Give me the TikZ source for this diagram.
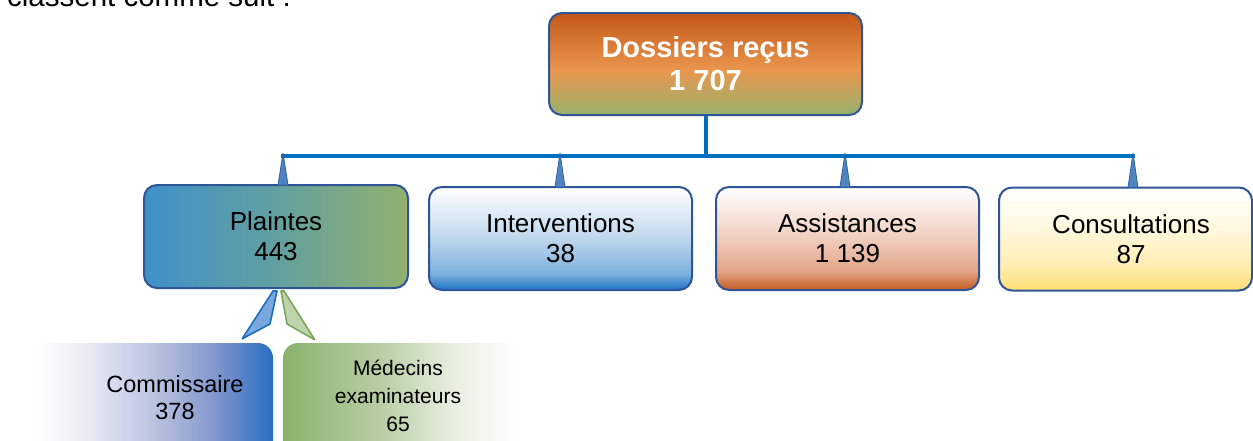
\documentclass[tikz,border=0pt]{standalone}
\usepackage{fontspec}
\setmainfont{Liberation Sans}
\usetikzlibrary{calc}

% palette
\definecolor{frameblue}{RGB}{47,85,151}
\definecolor{busblue}{RGB}{0,112,192}
\definecolor{pinfill}{RGB}{80,132,192}
\definecolor{pinedge}{RGB}{45,95,165}
\definecolor{orDark}{RGB}{196,88,24}
\definecolor{orMid}{RGB}{234,150,78}
\definecolor{olive}{RGB}{150,178,110}
\definecolor{plBlue}{RGB}{62,144,202}
\definecolor{plMid}{RGB}{98,160,160}
\definecolor{plGreen}{RGB}{146,176,110}
\definecolor{ivBlue}{RGB}{28,114,196}
\definecolor{ivMid}{RGB}{125,176,222}
\definecolor{ivLight}{RGB}{196,219,238}
\definecolor{asBrown}{RGB}{196,90,30}
\definecolor{asMid}{RGB}{226,164,134}
\definecolor{asLight}{RGB}{242,210,196}
\definecolor{coYellow}{RGB}{255,222,115}
\definecolor{coMid}{RGB}{255,238,180}
\definecolor{coLight}{RGB}{255,248,222}
\definecolor{cmBlue}{RGB}{40,110,195}
\definecolor{cmMid}{RGB}{130,150,205}
\definecolor{cmLav}{RGB}{188,196,225}
\definecolor{cmPale}{RGB}{238,240,247}
\definecolor{mdGreen}{RGB}{138,178,108}
\definecolor{mdMid}{RGB}{185,206,165}
\definecolor{mdPale}{RGB}{232,239,226}
\definecolor{wedgeBlueEdge}{RGB}{30,110,190}
\definecolor{wedgeBlueFill}{RGB}{120,168,222}
\definecolor{wedgeGreenEdge}{RGB}{122,165,96}
\definecolor{wedgeGreenFill}{RGB}{190,212,172}

% box fills (the path spans 25bp..75bp of each shading)
\pgfdeclareverticalshading{shTop}{100bp}{color(0bp)=(olive); color(25bp)=(olive); color(47bp)=(orMid); color(75bp)=(orDark); color(100bp)=(orDark)}
\pgfdeclarehorizontalshading{shPlaintes}{100bp}{color(0bp)=(plBlue); color(25bp)=(plBlue); color(50bp)=(plMid); color(75bp)=(plGreen); color(100bp)=(plGreen)}
\pgfdeclareverticalshading{shInterv}{100bp}{color(0bp)=(ivBlue); color(25bp)=(ivBlue); color(33bp)=(ivMid); color(52bp)=(ivLight); color(75bp)=(white); color(100bp)=(white)}
\pgfdeclareverticalshading{shAssist}{100bp}{color(0bp)=(asBrown); color(25bp)=(asBrown); color(34bp)=(asMid); color(52bp)=(asLight); color(75bp)=(white); color(100bp)=(white)}
\pgfdeclareverticalshading{shConsult}{100bp}{color(0bp)=(coYellow); color(25bp)=(coYellow); color(38bp)=(coMid); color(55bp)=(coLight); color(75bp)=(white); color(100bp)=(white)}
\pgfdeclarehorizontalshading{shComm}{100bp}{color(0bp)=(white); color(30bp)=(white); color(38bp)=(cmPale); color(52bp)=(cmLav); color(64bp)=(cmMid); color(75bp)=(cmBlue); color(100bp)=(cmBlue)}
\pgfdeclarehorizontalshading{shMed}{100bp}{color(0bp)=(mdGreen); color(25bp)=(mdGreen); color(44bp)=(mdMid); color(58bp)=(mdPale); color(70bp)=(white); color(100bp)=(white)}

\tikzset{
  box/.style={draw=frameblue, line width=2pt, rounded corners=13pt,
    inner sep=0pt, align=center, minimum height=103pt,
    font={\fontsize{26}{30}\selectfont}},
  subbox/.style={rounded corners=15pt, inner sep=0pt, minimum height=130pt},
  subtext/.style={align=center, inner sep=0pt},
  busline/.style={draw=busblue, line width=4pt},
  pin/.style={fill=pinfill, draw=pinedge, line width=0.8pt, line join=round},
  wedgeblue/.style={fill=wedgeBlueFill, draw=wedgeBlueEdge, line width=1.6pt, line join=round},
  wedgegreen/.style={fill=wedgeGreenFill, draw=wedgeGreenEdge, line width=1.6pt, line join=round},
}

\begin{document}
\begin{tikzpicture}[x=1pt, y=-1pt]
\useasboundingbox (0,0) rectangle (1253,440);
\clip (0,0) rectangle (1253,440);

% running text of the page, cut by the frame
\node[anchor=base west, inner sep=0pt, font={\fontsize{29.5}{33}\selectfont}] (intro) at (7,6) {classent comme suit :};

% root
\node[box, shading=shTop, minimum width=313pt, minimum height=102pt,
      text=white, font={\fontsize{29}{33}\selectfont\bfseries}] (top) at (705.5,64) {Dossiers reçus\\1 707};

% first level
\node[box, shading=shPlaintes, minimum width=264pt] (plaintes) at (276,236.5) {Plaintes\\443};
\node[box, shading=shInterv, minimum width=263pt] (interv) at (560.5,238.5) {Interventions\\38};
\node[box, shading=shAssist, minimum width=263pt] (assist) at (847.5,238.5) {Assistances\\1 139};
\node[box, shading=shConsult, minimum width=253pt] (consult) at (1125.5,239) {\hspace*{11pt}Consultations\\\hspace*{11pt}87};

% second level under Plaintes
\node[subbox, shading=shComm, minimum width=263pt] (comm) at (141.5,408) {};
\node[subbox, shading=shMed, minimum width=260pt] (med) at (413,408) {};
\node[subtext, font={\fontsize{23.5}{27}\selectfont}] (commtxt) at (175,398) {Commissaire\\378};
\node[subtext, font={\fontsize{21}{28}\selectfont}] (medtxt) at (398,396) {Médecins\\examinateurs\\65};

% bus from the root to the first level
\coordinate (jp) at ($(plaintes.north)+(7,0)$);
\coordinate (ji) at ($(interv.north)+(-0.5,0)$);
\coordinate (ja) at ($(assist.north)+(-2.5,0)$);
\coordinate (jc) at ($(consult.north)+(7.5,0)$);
\coordinate (bus) at ($(top.south)+(0,40)$);
\draw[busline] (top.south) -- (bus);
\draw[busline] ($(bus -| jp)+(-2,0)$) -- ($(bus -| jc)+(2,0)$);

\foreach \j in {jp,ji,ja,jc}{
  \path[pin] ($(\j)+(-5,1)$) -- ($(bus -| \j)+(0,-3)$) -- ($(\j)+(5,1)$) -- cycle;
}

% wedges from Plaintes to its two parts
\path[wedgeblue] ($(plaintes.south)+(-3,2)$) -- ($(plaintes.south)+(1,2)$)
  -- ($(plaintes.south)+(-6,35)$) -- ($(comm.north east)+(-31,-4)$) -- cycle;
\path[wedgegreen] ($(plaintes.south)+(5,2)$) -- ($(plaintes.south)+(8,2)$)
  -- ($(med.north west)+(32,-3)$) -- ($(plaintes.south)+(11,35)$) -- cycle;
\end{tikzpicture}
\end{document}
